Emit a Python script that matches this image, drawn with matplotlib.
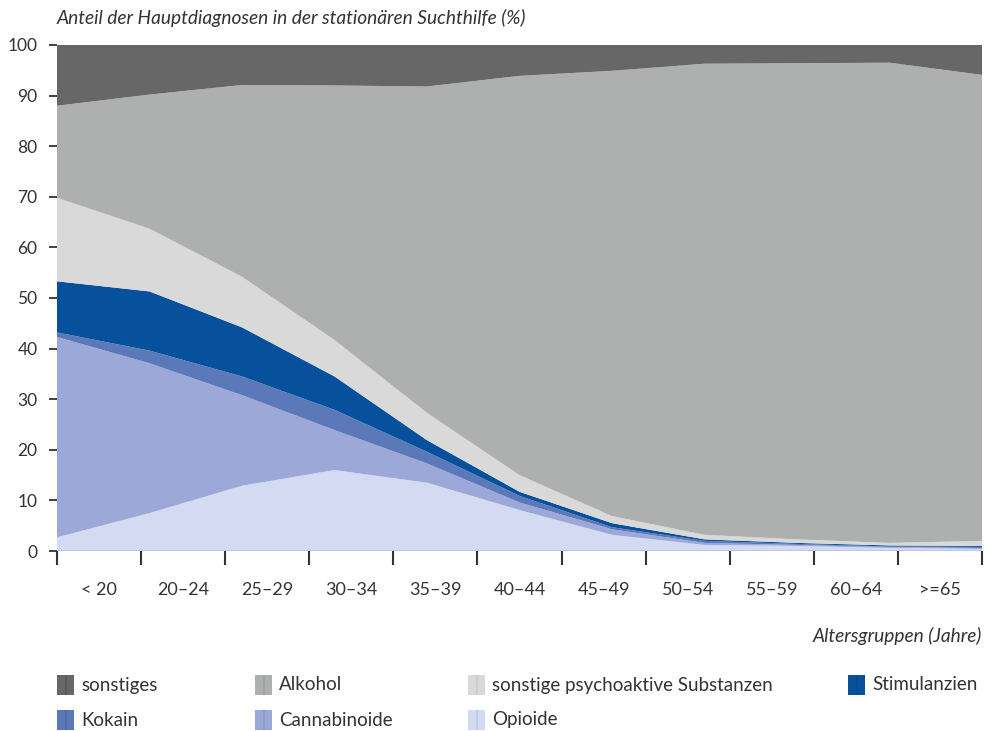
import matplotlib.pyplot as plt
import numpy as np
from matplotlib.patches import Rectangle

plt.rcParams['font.family'] = ['Lato', 'DejaVu Sans']

# age groups (x labels) and shares per main diagnosis (%), bottom to top
groups = ['< 20', '20–24', '25–29', '30–34', '35–39', '40–44',
          '45–49', '50–54', '55–59', '60–64', '>=65']
opioide = [2.7, 7.5, 12.9, 16.0, 13.5, 8.1, 3.2, 1.2, 1.0, 0.6, 0.4]
cannabinoide = [39.6, 29.6, 17.9, 7.9, 3.8, 1.5, 1.1, 0.4, 0.2, 0.2, 0.2]
kokain = [0.9, 2.5, 3.7, 4.0, 2.3, 1.3, 0.4, 0.4, 0.2, 0.1, 0.2]
stimulanzien = [10.1, 11.7, 9.7, 6.6, 2.3, 0.8, 0.8, 0.3, 0.2, 0.2, 0.2]
sonst_psycho = [16.5, 12.4, 10.0, 7.2, 5.4, 3.3, 1.4, 0.9, 0.7, 0.5, 1.0]
alkohol = [18.2, 26.5, 37.9, 50.3, 64.5, 78.9, 88.0, 93.1, 94.1, 94.9, 92.1]
sonstiges = [12.0, 9.8, 7.9, 8.0, 8.2, 6.1, 5.1, 3.7, 3.6, 3.5, 5.9]

names = ['Opioide', 'Cannabinoide', 'Kokain', 'Stimulanzien',
         'sonstige psychoaktive Substanzen', 'Alkohol', 'sonstiges']
colors = ['#d4daf2', '#9ba8d8', '#5b79b8', '#07519c', '#d9d9d9', '#aeb0af', '#676767']
stripe = ['#c3cbeb', '#8c9ad0', '#4d6cae', '#0a4a8f', '#cdcdcd', '#a2a4a3', '#595959']

txt = '#333333'
fig = plt.figure(figsize=(9.88, 7.31), dpi=100)
ax = fig.add_axes([57 / 988, 1 - 551 / 731, 925 / 988, 506 / 731])

# data points spread evenly over the whole axis, labels sit between ticks
n = len(groups)
x = np.linspace(0, n, n)
ax.stackplot(x, opioide, cannabinoide, kokain, stimulanzien, sonst_psycho,
             alkohol, sonstiges, colors=colors, linewidth=0)
ax.axhline(0, color='#b9c3e6', lw=1.2)

ax.set_xlim(0, n)
ax.set_ylim(0, 100)
for s in ax.spines.values():
    s.set_visible(False)

ax.set_yticks(np.arange(0, 101, 10))
ax.tick_params(axis='y', length=6, width=1.3, color=txt, labelsize=12.5,
               labelcolor=txt, pad=8)
ax.set_xticks(np.arange(0, n + 1))
ax.set_xticklabels([])
ax.tick_params(axis='x', which='major', length=10, width=1.5, color=txt)
ax.set_xticks(np.arange(n) + 0.5, minor=True)
ax.set_xticklabels(groups, minor=True)
ax.tick_params(axis='x', which='minor', length=0, pad=22, labelsize=13,
               labelcolor=txt)

fig.text(57 / 988, 1 - 18 / 731, 'Anteil der Hauptdiagnosen in der stationären Suchthilfe (%)',
         style='italic', fontsize=13.8, color=txt, va='center', ha='left')
fig.text(982 / 988, 1 - 636 / 731, 'Altersgruppen (Jahre)', style='italic',
         fontsize=13.8, color=txt, va='center', ha='right')

# legend, two rows
order = [6, 5, 4, 3, 2, 1, 0]
cols = [57, 255, 468, 848]
rows = [685, 720]
for k, i in enumerate(order):
    lx = cols[k % 4]
    ly = rows[k // 4]
    fig.add_artist(Rectangle((lx / 988, 1 - (ly + 10) / 731), 17 / 988, 20 / 731,
                             transform=fig.transFigure, color=colors[i], lw=0))
    fig.add_artist(Rectangle(((lx + 8) / 988, 1 - (ly + 10) / 731), 2 / 988, 20 / 731,
                             transform=fig.transFigure, color=stripe[i], lw=0))
    fig.text((lx + 24) / 988, 1 - ly / 731, names[i], fontsize=13.5, color=txt,
             va='center', ha='left')

fig.savefig('out.png', dpi=100, facecolor='white')
